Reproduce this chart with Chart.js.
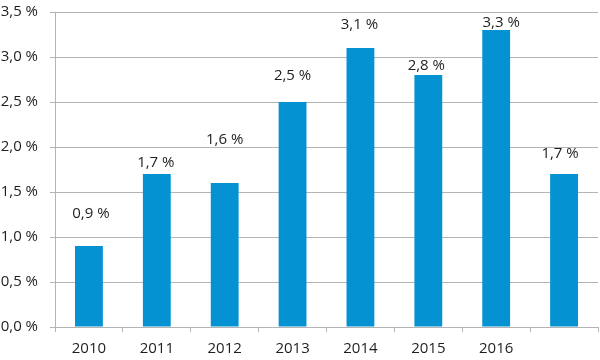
<!DOCTYPE html>
<html>
<head>
<meta charset="utf-8">
<script src="https://cdn.jsdelivr.net/npm/chart.js@4/dist/chart.umd.min.js"></script>
<style>
  html, body { margin: 0; padding: 0; background: #fff; }
  #wrap { width: 600px; height: 360px; }
</style>
</head>
<body>
<div id="wrap"><canvas id="chart"></canvas></div>
<script>
// data
var years = ['2010', '2011', '2012', '2013', '2014', '2015', '2016', ''];
var growth = [0.9, 1.7, 1.6, 2.5, 3.1, 2.8, 3.3, 1.7];
var yTicks = [0, 0.5, 1, 1.5, 2, 2.5, 3, 3.5];

// hand placed value labels in the original (pixels above bar top, sideways nudge)
var labelLift = [32, 11, 43, 26, 23, 9, 7, 20];
var labelNudge = [2, -1, 0, 0, -1, -2, 5, -4];

var gridGray = '#b4b4b4';
var textColor = '#1e1e1e';
var fontFamily = '"Open Sans", "Liberation Sans", sans-serif';

function pct(v) {
  return v.toFixed(1).replace('.', ',') + ' %';
}

var valueLabels = {
  id: 'valueLabels',
  afterDatasetsDraw: function (chart) {
    var ctx = chart.ctx;
    var meta = chart.getDatasetMeta(0);
    ctx.save();
    ctx.font = '15px ' + fontFamily;
    ctx.fillStyle = textColor;
    ctx.textAlign = 'center';
    ctx.textBaseline = 'middle';
    meta.data.forEach(function (bar, i) {
      ctx.fillText(pct(growth[i]), bar.x + labelNudge[i], bar.y - labelLift[i]);
    });
    ctx.restore();
  }
};

Chart.defaults.font.family = fontFamily;
Chart.defaults.font.size = 15;
Chart.defaults.color = textColor;

var ctx = document.getElementById('chart').getContext('2d');
var chart = new Chart(ctx, {
  type: 'bar',
  data: {
    labels: years,
    datasets: [{
      data: growth,
      backgroundColor: '#0492d3',
      barPercentage: 0.41,
      categoryPercentage: 1.0
    }]
  },
  options: {
    responsive: true,
    maintainAspectRatio: false,
    animation: false,
    layout: { padding: { top: 12, right: 2, left: 0, bottom: 0 } },
    plugins: {
      legend: { display: false },
      tooltip: { enabled: false }
    },
    scales: {
      x: {
        offset: true,
        grid: {
          offset: true,
          display: true,
          drawOnChartArea: true,
          color: function (c) { return c.index === years.length ? gridGray : 'rgba(0,0,0,0)'; },
          tickColor: gridGray,
          tickLength: 5
        },
        border: { color: gridGray },
        ticks: { padding: 8, color: textColor },
        afterFit: function (scale) { scale.height = 33; }
      },
      y: {
        min: 0,
        max: 3.5,
        afterBuildTicks: function (scale) {
          scale.ticks = yTicks.map(function (v) { return { value: v }; });
        },
        grid: { color: gridGray, tickColor: gridGray, tickLength: 5 },
        border: { color: gridGray },
        ticks: {
          padding: 12,
          color: textColor,
          callback: function (v) { return pct(v); }
        },
        afterFit: function (scale) {
          scale.width = 55;
          scale.paddingTop = 0;
          scale.paddingBottom = 0;
        }
      }
    }
  },
  plugins: [valueLabels]
});
</script>
</body>
</html>
